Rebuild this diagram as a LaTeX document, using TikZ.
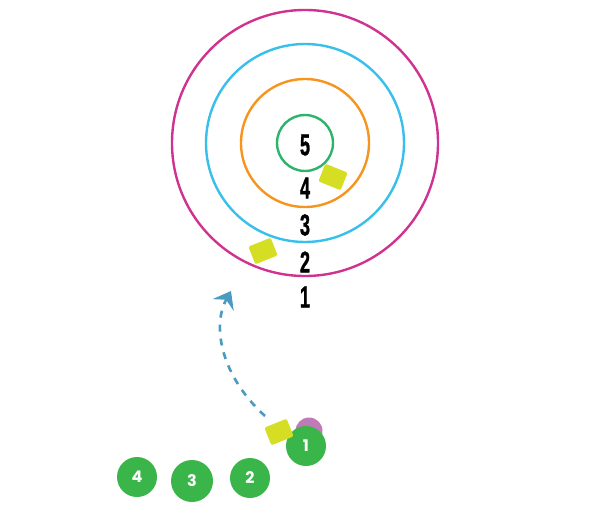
\documentclass[tikz,border=0pt]{standalone}
\usepackage{fontspec}
\setmainfont{Liberation Sans}
\newfontfamily\roundfont{Poppins}
\newfontfamily\heavyfont[FakeBold=1.5]{Liberation Sans Bold}
\usetikzlibrary{arrows.meta}
\definecolor{ringA}{HTML}{D0338F}
\definecolor{ringB}{HTML}{38C0EA}
\definecolor{ringC}{HTML}{F7941D}
\definecolor{ringD}{HTML}{2DB36B}
\definecolor{ballgreen}{HTML}{3AB54A}
\definecolor{ballpurple}{HTML}{C07AB8}
\definecolor{puck}{HTML}{D6DE23}
\definecolor{arrowblue}{HTML}{4A9BBF}
\begin{document}
\begin{tikzpicture}[x=1pt,y=-1pt,
  ring/.style={draw=#1,line width=2.4pt},
  score/.style={font=\heavyfont\fontsize{30}{30}\selectfont,text=black,inner sep=0pt},
  ball/.style={circle,fill=ballgreen,minimum size=40pt,inner sep=0pt,text=white,font=\roundfont\bfseries\fontsize{16}{16}\selectfont},
  puckbox/.style={fill=puck,rounded corners=2pt,minimum width=24pt,minimum height=19pt,inner sep=0pt}]
\useasboundingbox (0,0) rectangle (612,513);
\coordinate (c) at (305,143);
\draw[ring=ringA] (c) circle (133);
\draw[ring=ringB] (c) circle (99);
\draw[ring=ringC] (c) circle (64);
\draw[ring=ringD] (c) circle (28);
\newcommand\narrowdigit[1]{\scalebox{0.6}[1]{#1}}
\node[score] (s5) at (305,145) {\narrowdigit{5}};
\node[score] (s4) at (305,188) {\narrowdigit{4}};
\node[score] (s3) at (305,225) {\narrowdigit{3}};
\node[score] (s2) at (305,262) {\narrowdigit{2}};
\node[score] (s1) at (305,297) {\narrowdigit{1}};
\node[puckbox,rotate=-22] (p1) at (333,177) {};
\node[puckbox,rotate=22] (p2) at (263,251) {};
\node[circle,fill=ballpurple,minimum size=27pt,inner sep=0pt] (pb) at (309,431) {};
\node[ball] (b1) at (306,446) {1};
\node[puckbox,rotate=22] (p3) at (279,432) {};
\node[ball] (b4) at (137,477) {4};
\node[ball,minimum size=42pt] (b3) at (192,481) {3};
\node[ball] (b2) at (250,478) {2};
\coordinate (as) at (265,416);
\coordinate (ae) at (231,291);
\draw[arrowblue,line width=2.6pt,dash pattern=on 7pt off 7pt,-{Stealth[length=16pt,width=24pt,inset=6pt]}]
  (as) .. controls (220,375) and (212,325) .. (ae);
\end{tikzpicture}
\end{document}
